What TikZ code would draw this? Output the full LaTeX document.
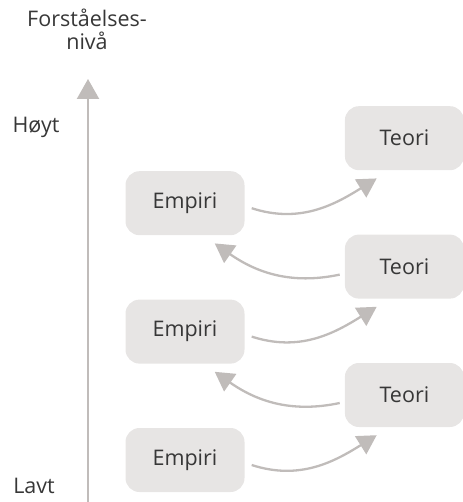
\documentclass[tikz,border=0pt]{standalone}
\usepackage{fontspec}
\setmainfont{Open Sans}
\usetikzlibrary{positioning,arrows.meta}

\definecolor{boxgray}{RGB}{231,229,228}
\definecolor{arrowgray}{RGB}{192,188,186}
\definecolor{textgray}{RGB}{55,55,55}

\begin{document}
\begin{tikzpicture}[
    x=1pt, y=-1pt,
    node distance=64pt,
    every node/.style={text=textgray},
    box/.style={fill=boxgray, rounded corners=14pt, minimum width=119pt, minimum height=64pt, font=\fontsize{21.5}{24}\selectfont},
    label/.style={font=\fontsize{21.5}{23}\selectfont, align=center},
    flow/.style={draw=arrowgray, line width=2.3pt, -{Triangle[width=21pt,length=19pt]}},
    axis/.style={draw=arrowgray, line width=2.3pt, -{Triangle[width=22pt,length=20pt]}}
]
\useasboundingbox (0,0) rectangle (462,502);

% Empiri-boksene
\node[box] (empiri1) at (185,460) {Empiri};
\node[box, above=of empiri1] (empiri2) {Empiri};
\node[box, above=of empiri2] (empiri3) {Empiri};

% Teori-boksene
\node[box, right=100pt of empiri1, yshift=65pt] (teori1) {Teori};
\node[box, right=100pt of empiri2, yshift=65pt] (teori2) {Teori};
\node[box, right=100pt of empiri3, yshift=65pt] (teori3) {Teori};

% aksen
\node[label] (title) at (87,29) {Forståelses-\\nivå};
\coordinate (axisbot) at (88,502);
\coordinate (axistop) at (88,79);
\draw[axis] (axisbot) -- (axistop);
\node[label] (high) at (36,127) {Høyt};
\node[label] (low) at (34,486) {Lavt};

% piler fra empiri til teori
\draw[flow] ([xshift=7pt,yshift=-5pt]empiri1.east) to[out=-18, in=212] ([xshift=32pt,yshift=-8pt]teori1.south west);
\draw[flow] ([xshift=7pt,yshift=-5pt]empiri2.east) to[out=-18, in=212] ([xshift=32pt,yshift=-8pt]teori2.south west);
\draw[flow] ([xshift=7pt,yshift=-5pt]empiri3.east) to[out=-18, in=212] ([xshift=32pt,yshift=-8pt]teori3.south west);

% piler fra teori til empiri
\draw[flow] ([xshift=-5pt,yshift=-8pt]teori1.west) to[out=192, in=-35] ([xshift=-30pt,yshift=-8pt]empiri2.south east);
\draw[flow] ([xshift=-5pt,yshift=-8pt]teori2.west) to[out=192, in=-35] ([xshift=-30pt,yshift=-8pt]empiri3.south east);

\end{tikzpicture}
\end{document}
